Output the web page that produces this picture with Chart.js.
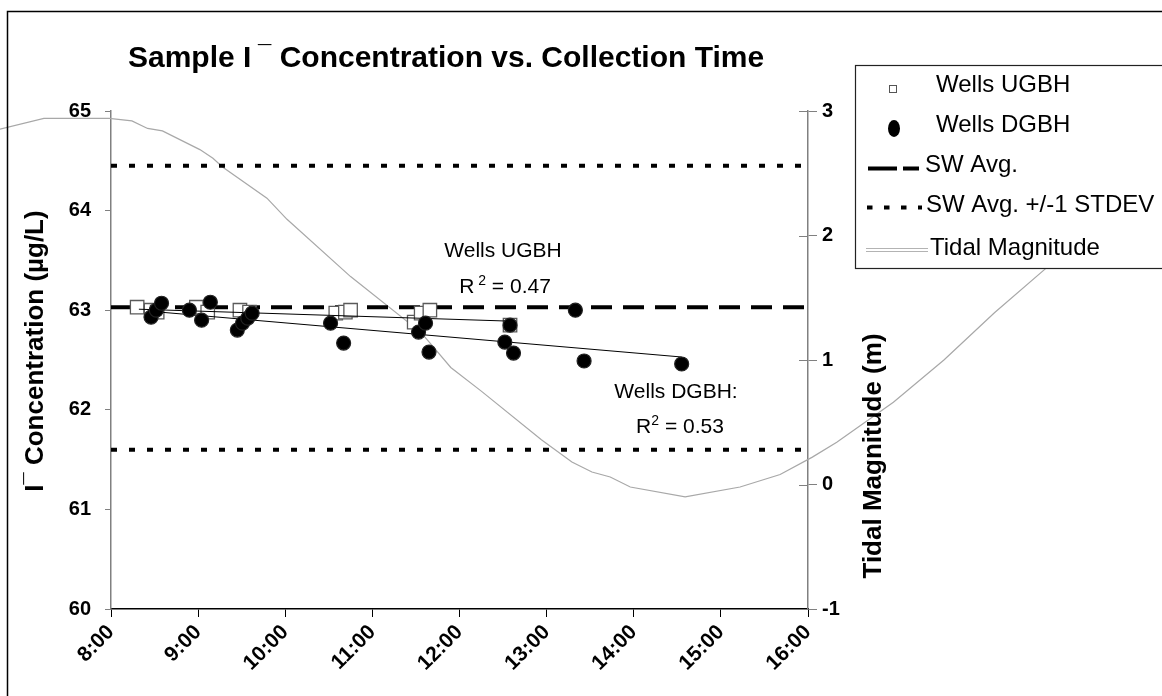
<!DOCTYPE html>
<html>
<head>
<meta charset="utf-8">
<title>Sample I¯ Concentration vs. Collection Time</title>
<script src="https://cdn.jsdelivr.net/npm/chart.js@4.4.1/dist/chart.umd.min.js"></script>
<style>
  html, body { margin: 0; padding: 0; background: #fff; }
  canvas { display: block; }
</style>
</head>
<body>
<canvas id="chart" width="1162" height="696"></canvas>
<script>
// collection times are decimal hours of the day
const timeLabels = ["8:00", "9:00", "10:00", "11:00", "12:00", "13:00", "14:00", "15:00", "16:00"];

// wells up-gradient of the borehole (µg/L)
const ugbhTimes = [8.30, 8.46, 8.53, 8.98, 9.11, 9.48, 9.59, 10.58, 10.69, 10.75, 11.48, 11.56, 11.66, 12.58];
const ugbhConc = [63.03, 63.00, 62.98, 63.03, 62.98, 63.00, 62.98, 62.97, 62.98, 63.00, 62.88, 62.97, 63.00, 62.85];

// wells down-gradient of the borehole (µg/L)
const dgbhTimes = [8.46, 8.52, 8.58, 8.90, 9.04, 9.14, 9.45, 9.51, 9.57, 9.62, 10.52, 10.67, 11.53, 11.61, 11.65, 12.52, 12.58, 12.62, 13.33, 13.43, 14.55];
const dgbhConc = [62.93, 63.00, 63.07, 63.00, 62.90, 63.08, 62.80, 62.87, 62.92, 62.97, 62.87, 62.67, 62.78, 62.87, 62.58, 62.68, 62.85, 62.57, 63.00, 62.49, 62.46];

// linear fits, end points only
const ugbhFitTimes = [8.32, 12.58];
const ugbhFitConc = [63.01, 62.89];
const dgbhFitTimes = [8.44, 14.55];
const dgbhFitConc = [62.99, 62.53];

// seawater reference levels (µg/L)
const swAvg = 63.03;
const swUpper = 64.45;
const swLower = 61.60;

// tide gauge (m)
const tideTimes = [6.70, 7.23, 7.98, 8.24, 8.42, 8.59, 9.02, 9.17, 9.28, 9.79, 10.02, 10.75, 11.56, 11.90, 12.25, 12.94, 13.29, 13.52, 13.73, 13.96, 14.59, 15.22, 15.68, 16.05, 16.33, 16.98, 17.56, 18.14, 18.77];
const tideLevel = [2.85, 2.94, 2.94, 2.92, 2.86, 2.84, 2.69, 2.62, 2.55, 2.30, 2.13, 1.67, 1.22, 0.94, 0.75, 0.36, 0.18, 0.10, 0.06, -0.02, -0.10, -0.02, 0.08, 0.22, 0.34, 0.66, 1.00, 1.38, 1.76];

const FONT = '"Liberation Sans", Arial, Helvetica, sans-serif';
const tStart = 8, tEnd = 16;

const toPoints = (xs, ys) => xs.map((x, i) => ({ x: x, y: ys[i] }));
const level = (v) => [{ x: tStart, y: v }, { x: tEnd, y: v }];

// draws a run of text pieces (for superscripts), left or centre aligned
function drawRuns(ctx, runs, x, y, align) {
  let total = 0;
  runs.forEach((r) => {
    ctx.font = (r.bold ? "bold " : "") + r.size + "px " + FONT;
    r.w = ctx.measureText(r.text).width;
    total += r.w;
  });
  let cx = align === "center" ? x - total / 2 : x;
  runs.forEach((r) => {
    ctx.font = (r.bold ? "bold " : "") + r.size + "px " + FONT;
    ctx.fillText(r.text, cx, y - (r.raise || 0));
    cx += r.w;
  });
}

const decorations = {
  id: "decorations",
  afterDraw(chart) {
    const ctx = chart.ctx;
    const y2 = chart.scales.y2;
    ctx.save();
    ctx.fillStyle = "#000";
    ctx.textAlign = "left";
    ctx.textBaseline = "alphabetic";

    // right axis ticks cross the axis line
    ctx.strokeStyle = "#808080";
    ctx.lineWidth = 1;
    y2.ticks.forEach((t) => {
      const py = Math.round(y2.getPixelForValue(t.value)) + 0.5;
      ctx.beginPath();
      ctx.moveTo(y2.left - 9, py);
      ctx.lineTo(y2.left, py);
      ctx.stroke();
    });

    // title
    drawRuns(ctx, [
      { text: "Sample I", size: 30, bold: true },
      { text: " ¯", size: 24, bold: true, raise: 5 },
      { text: " Concentration vs. Collection Time", size: 30, bold: true }
    ], 128, 67, "left");

    // left axis title
    ctx.save();
    ctx.translate(43, 351);
    ctx.rotate(-Math.PI / 2);
    drawRuns(ctx, [
      { text: "I", size: 26, bold: true },
      { text: "¯", size: 22, bold: true, raise: 3 },
      { text: " Concentration (µg/L)", size: 26, bold: true }
    ], 0, 0, "center");
    ctx.restore();

    // right axis title
    ctx.save();
    ctx.translate(881, 456);
    ctx.rotate(-Math.PI / 2);
    drawRuns(ctx, [{ text: "Tidal Magnitude (m)", size: 26, bold: true }], 0, 0, "center");
    ctx.restore();

    // regression labels
    drawRuns(ctx, [{ text: "Wells UGBH", size: 21 }], 503, 257, "center");
    drawRuns(ctx, [
      { text: "R", size: 21 },
      { text: " 2", size: 14, raise: 8 },
      { text: " = 0.47", size: 21 }
    ], 505, 293, "center");
    drawRuns(ctx, [{ text: "Wells DGBH:", size: 21 }], 676, 398, "center");
    drawRuns(ctx, [
      { text: "R", size: 21 },
      { text: "2", size: 14, raise: 8 },
      { text: " = 0.53", size: 21 }
    ], 680, 433, "center");

    // legend
    ctx.fillStyle = "#fff";
    ctx.fillRect(855, 65, 330, 203);
    ctx.strokeStyle = "#222";
    ctx.lineWidth = 1.2;
    ctx.strokeRect(855.5, 65.5, 330, 203);

    ctx.fillStyle = "#fff";
    ctx.strokeStyle = "#555";
    ctx.lineWidth = 1;
    ctx.fillRect(889.5, 85.5, 7, 7);
    ctx.strokeRect(889.5, 85.5, 7, 7);

    ctx.fillStyle = "#000";
    ctx.beginPath();
    ctx.ellipse(894, 128.5, 6, 8.5, 0, 0, Math.PI * 2);
    ctx.fill();

    ctx.strokeStyle = "#000";
    ctx.lineWidth = 4;
    ctx.setLineDash([29, 6]);
    ctx.beginPath();
    ctx.moveTo(868, 168.5);
    ctx.lineTo(919, 168.5);
    ctx.stroke();

    ctx.setLineDash([5.5, 11.5]);
    ctx.beginPath();
    ctx.moveTo(867, 207.5);
    ctx.lineTo(922, 207.5);
    ctx.stroke();
    ctx.setLineDash([]);

    ctx.strokeStyle = "#b3b3b3";
    ctx.lineWidth = 1;
    [248.5, 251.5].forEach((ly) => {
      ctx.beginPath();
      ctx.moveTo(866, ly);
      ctx.lineTo(928, ly);
      ctx.stroke();
    });

    ctx.fillStyle = "#000";
    const legendText = [
      ["Wells UGBH", 936, 92],
      ["Wells DGBH", 936, 132],
      ["SW Avg.", 925, 172],
      ["SW Avg. +/-1 STDEV", 926, 212],
      ["Tidal Magnitude", 930, 255]
    ];
    legendText.forEach(([txt, lx, ly]) => drawRuns(ctx, [{ text: txt, size: 24 }], lx, ly, "left"));

    // frame round the figure
    ctx.strokeStyle = "#000";
    ctx.lineWidth = 1.5;
    ctx.strokeRect(7.5, 11.5, 1300, 800);
    ctx.restore();
  }
};

const tickFont = { family: FONT, size: 20, weight: "bold" };

new Chart(document.getElementById("chart").getContext("2d"), {
  type: "line",
  data: {
    datasets: [
      {
        label: "Wells UGBH",
        data: toPoints(ugbhTimes, ugbhConc),
        showLine: false,
        pointStyle: "rect",
        pointRadius: 9.5,
        pointBackgroundColor: "#fff",
        pointBorderColor: "#5a5a5a",
        pointBorderWidth: 1.3,
        order: 3
      },
      {
        label: "Wells DGBH",
        data: toPoints(dgbhTimes, dgbhConc),
        showLine: false,
        pointStyle: "circle",
        pointRadius: 7,
        pointBackgroundColor: "#000",
        pointBorderColor: "#222",
        pointBorderWidth: 1.2,
        order: 1
      },
      {
        label: "UGBH fit",
        data: toPoints(ugbhFitTimes, ugbhFitConc),
        borderColor: "#000",
        borderWidth: 1,
        pointRadius: 0,
        order: 2
      },
      {
        label: "DGBH fit",
        data: toPoints(dgbhFitTimes, dgbhFitConc),
        borderColor: "#000",
        borderWidth: 1,
        pointRadius: 0,
        order: 2
      },
      {
        label: "SW Avg.",
        data: level(swAvg),
        borderColor: "#000",
        borderWidth: 4,
        borderDash: [21, 11],
        pointRadius: 0,
        order: 4
      },
      {
        label: "SW Avg. +1 STDEV",
        data: level(swUpper),
        borderColor: "#000",
        borderWidth: 4,
        borderDash: [6, 12],
        pointRadius: 0,
        order: 5
      },
      {
        label: "SW Avg. -1 STDEV",
        data: level(swLower),
        borderColor: "#000",
        borderWidth: 4,
        borderDash: [6, 12],
        pointRadius: 0,
        order: 5
      },
      {
        label: "Tidal Magnitude",
        data: toPoints(tideTimes, tideLevel),
        yAxisID: "y2",
        borderColor: "#a8a8a8",
        borderWidth: 1.2,
        pointRadius: 0,
        tension: 0,
        clip: false,
        order: 6
      }
    ]
  },
  options: {
    responsive: false,
    animation: false,
    events: [],
    layout: { padding: { top: 111 } },
    plugins: {
      legend: { display: false },
      tooltip: { enabled: false },
      title: { display: false }
    },
    scales: {
      x: {
        type: "linear",
        position: "bottom",
        // range is set after the data limits so that the tide line may run past the axes
        afterDataLimits: (s) => { s.min = tStart; s.max = tEnd; },
        afterFit: (s) => { s.height = 87; },
        ticks: {
          stepSize: 1,
          autoSkip: false,
          minRotation: 45,
          maxRotation: 45,
          padding: 3,
          color: "#000",
          font: { family: FONT, size: 21, weight: "bold" },
          callback: (v, i) => timeLabels[i]
        },
        grid: { drawOnChartArea: false, tickLength: 8, color: "#000" },
        border: { color: "#000", width: 1.5 }
      },
      y: {
        position: "left",
        min: 60,
        max: 65,
        afterFit: (s) => { s.width = 111; },
        ticks: { stepSize: 1, padding: 14, color: "#000", font: tickFont },
        grid: { drawOnChartArea: false, tickLength: 6, color: "#808080" },
        border: { color: "#808080", width: 1.5 }
      },
      y2: {
        position: "right",
        min: -1,
        max: 3,
        afterFit: (s) => { s.width = 1162 - 808; },
        ticks: { stepSize: 1, padding: 5, color: "#000", font: tickFont },
        grid: { drawOnChartArea: false, tickLength: 9, color: "#808080" },
        border: { color: "#808080", width: 1.5 }
      }
    }
  },
  plugins: [decorations]
});
</script>
</body>
</html>
